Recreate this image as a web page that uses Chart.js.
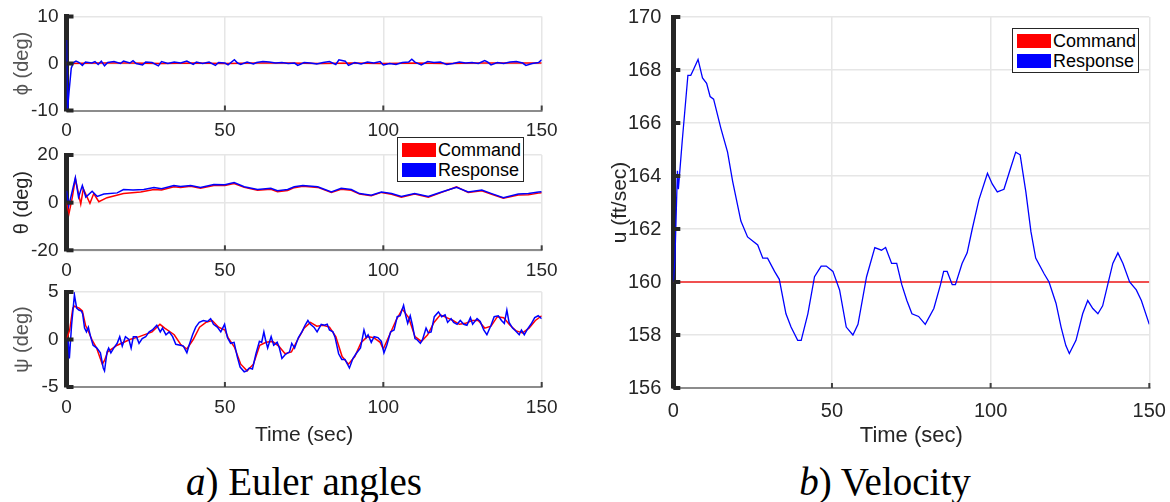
<!DOCTYPE html>
<html>
<head>
<meta charset="utf-8">
<script src="https://cdn.jsdelivr.net/npm/chart.js@4.4.1/dist/chart.umd.min.js"></script>
<style>
  body { margin: 0; background: #fff; width: 1170px; height: 502px; position: relative; overflow: hidden; font-family: "Liberation Sans", Arial, sans-serif; }
  canvas { position: absolute; }
  .legend { position: absolute; width: 125px; height: 43px; border: 1px solid #262626; background: #fff; font-size: 18px; color: #000; }
  .legend .row { position: absolute; left: 0; height: 21px; line-height: 21px; padding-left: 40px; }
  .legend .sw { position: absolute; left: 4px; top: 3px; width: 34px; height: 14px; }
  .caption { position: absolute; top: 461px; font-family: "Liberation Serif", "Times New Roman", serif; font-size: 39px; line-height: 42px; color: #000; text-align: center; width: 400px; }
</style>
</head>
<body>
<canvas id="phiChart" width="560" height="145" style="left:0;top:0"></canvas>
<canvas id="thetaChart" width="560" height="145" style="left:0;top:141px"></canvas>
<canvas id="psiChart" width="560" height="170" style="left:0;top:282px"></canvas>
<canvas id="uChart" width="570" height="455" style="left:600px;top:0"></canvas>

<div class="legend" style="left:397px;top:137px">
  <div class="row" style="top:2px"><span class="sw" style="background:#ff0000"></span>Command</div>
  <div class="row" style="top:22px"><span class="sw" style="background:#0000ff"></span>Response</div>
</div>
<div class="legend" style="left:1012px;top:28px">
  <div class="row" style="top:2px"><span class="sw" style="background:#ff0000"></span>Command</div>
  <div class="row" style="top:22px"><span class="sw" style="background:#0000ff"></span>Response</div>
</div>

<div class="caption" style="left:104px"><i>a</i>) Euler angles</div>
<div class="caption" style="left:685px"><i>b</i>) Velocity</div>

<script>
// phi (deg)
const phiRespTime = [0, 0.3, 0.8, 1.5, 2.2, 3, 4, 5, 6, 8, 9, 10, 11, 12, 13, 15, 17, 18, 20, 21, 22, 24, 25, 27, 29, 30, 32, 34, 36, 38, 40, 41, 43, 45, 47, 48, 50, 51, 53, 54, 55, 57, 59, 60, 62, 64, 66, 68, 70, 72, 73, 75, 77, 79, 81, 83, 85, 86, 88, 89, 91, 93, 95, 97, 99, 100, 102, 104, 106, 108, 109, 110, 112, 114, 116, 118, 120, 122, 124, 126, 128, 130, 132, 133, 134, 136, 138, 140, 142, 144, 145, 147, 149, 150];
const phiResp = [5, -10, -6, -1, 0.2, 0.5, 0.2, -0.4, 0.3, 0.1, 0.4, -0.2, 0.5, -0.5, 0.2, 0.4, 0.0, 0.5, 0.1, 0.6, 0.0, -0.3, 0.3, 0.2, -0.5, 0.4, 0.0, 0.3, 0.1, 0.5, -0.2, 0.3, 0.0, 0.3, -0.4, 0.2, 0.1, -0.3, 0.8, 0.1, -0.2, 0.3, -0.1, 0.2, 0.4, 0.3, 0.1, 0.2, 0.0, 0.1, -0.4, 0.2, 0.1, -0.1, 0.2, 0.4, -0.2, 0.8, 0.5, -0.4, 0.2, -0.1, 0.3, 0.1, 0.4, -0.3, 0.0, -0.2, 0.2, 0.3, 0.9, 0.3, -0.3, 0.4, 0.2, 0.3, -0.2, 0.0, 0.3, 0.1, 0.2, 0.0, 0.6, 0.3, -0.3, 0.2, 0.0, 0.3, 0.4, 0.1, -0.4, 0.0, 0.2, 0.8];
const phiCmdTime = [0, 10, 20, 30, 40, 50, 60, 70, 80, 90, 100, 110, 120, 130, 140, 150];
const phiCmd = [0, 0.1, 0.1, 0.0, 0.1, 0.0, 0.1, 0.1, 0.0, 0.1, 0.0, 0.1, 0.0, 0.1, 0.1, 0.1];

// theta (deg)
const thetaRespTime = [0, 0.7, 1.5, 2.8, 3.8, 5.0, 6.1, 8.1, 9.7, 11.8, 16, 18, 21, 24.4, 27.6, 30, 33.9, 36, 39.2, 42.3, 46.5, 50, 52.9, 56.1, 60.3, 64.5, 66.6, 69.8, 71.9, 74.6, 79.3, 83.6, 86.7, 89.9, 92.5, 96.2, 99.4, 102.6, 105.7, 109.9, 114.2, 118.4, 123.1, 126.8, 131.1, 134.2, 137.9, 142.6, 145.8, 149, 150];
const thetaResp = [5, -1.3, 3, 10.5, 2.3, 7.2, 2.3, 4.8, 2.6, 3.6, 4.1, 5.5, 5.3, 5.5, 6.4, 5.8, 7.2, 6.8, 7.2, 6.4, 7.6, 7.5, 8.4, 6.7, 5.5, 6.0, 5.0, 5.5, 6.7, 7.2, 6.7, 4.5, 6.0, 5.5, 3.8, 3.1, 4.5, 3.8, 2.6, 3.8, 2.6, 4.5, 6.4, 4.5, 5.3, 3.8, 2.1, 3.6, 3.8, 4.5, 4.6];
const thetaCmdTime = [0, 0.8, 1.8, 2.8, 4.5, 5.3, 7.4, 8.6, 10.2, 12.8, 18, 23.4, 27.6, 30, 33.9, 36, 39.2, 42.3, 46.5, 50, 52.9, 56.1, 60.3, 64.5, 66.6, 69.8, 71.9, 74.6, 79.3, 83.6, 86.7, 89.9, 92.5, 96.2, 99.4, 102.6, 105.7, 109.9, 114.2, 118.4, 123.1, 126.8, 131.1, 134.2, 137.9, 142.6, 145.8, 149, 150];
const thetaCmd = [0, -4.5, 2, 10, -0.6, 5.8, -0.3, 3.8, 0.4, 2.1, 3.8, 4.5, 5.5, 5.3, 6.7, 6.4, 6.9, 6.0, 7.2, 7.2, 8.0, 6.4, 5.2, 5.6, 4.6, 5.1, 6.3, 6.9, 6.4, 4.3, 5.6, 5.2, 3.6, 2.9, 4.3, 3.5, 2.3, 3.6, 2.3, 4.3, 6.6, 4.3, 5.0, 3.5, 1.9, 3.2, 3.3, 4.0, 4.2];

// psi (deg)
const psiRespTime = [0, 0.5, 0.9, 1.6, 2.5, 3.2, 3.9, 4.7, 5.1, 5.7, 6.3, 6.9, 7.6, 8.4, 9.6, 10.7, 11.6, 12.0, 12.8, 13.3, 14.0, 14.9, 16, 16.8, 17.6, 18.6, 19.7, 20.4, 21.1, 22.1, 22.9, 23.9, 25, 26.1, 27.1, 28.5, 29.6, 30.3, 31.4, 32.4, 33.5, 34.5, 35.9, 36.9, 38.0, 38.7, 39.8, 40.8, 41.9, 43.2, 44.5, 45.5, 46.4, 47.6, 48.7, 49.9, 50.8, 51.8, 52.9, 53.9, 54.8, 56.1, 56.9, 57.7, 58.7, 59.8, 60.9, 61.6, 62.3, 62.8, 63.5, 64.6, 65.4, 66.5, 67.2, 68.0, 69.0, 70.4, 71.1, 72.0, 73.2, 74.3, 75.3, 76.2, 77.0, 78.1, 79.1, 80.4, 81.4, 82.3, 83.0, 84.1, 84.8, 85.9, 86.9, 87.9, 89.3, 90.4, 91.4, 92.8, 93.9, 94.6, 95.2, 96.2, 97.1, 98.3, 99.4, 100.2, 101.1, 102.3, 103.4, 104.4, 105.3, 106.4, 107.1, 107.7, 108.5, 109.2, 110.0, 110.6, 111.7, 112.4, 113.5, 114.2, 115.1, 116.1, 117.4, 118.4, 119.5, 120.3, 121.4, 122.2, 123.3, 124.3, 125.4, 126.4, 127.5, 128.2, 129.6, 130.6, 131.7, 132.7, 134.0, 135.0, 136.3, 137.3, 138.2, 139.0, 139.7, 140.8, 141.8, 142.9, 143.6, 144.5, 145.5, 146.6, 147.8, 148.9, 150];
const psiResp = [0, 0, -2.0, 1.5, 4.7, 3.3, 3.1, 3.0, 2.7, 1.2, 0.8, 1.3, 0.3, -0.6, -0.9, -1.4, -3.0, -3.3, -1.3, -0.9, -1.4, -0.9, -0.4, 0.3, -0.7, 0.3, 0, -0.9, 0.3, 0.3, -0.4, 0.1, 0.3, 0.8, 1.0, 1.5, 0.8, 1.2, 0.5, 0.8, 0.3, -0.5, -0.6, -0.7, -1.4, -0.6, 0.5, 1.3, 1.8, 2.0, 1.9, 2.2, 1.6, 1.3, 0.8, 1.6, 0.2, -0.4, -0.3, -1.8, -2.9, -3.4, -3.3, -3.0, -3.1, -1.5, -0.2, -0.3, 0.8, 0, -0.9, 0.3, -0.6, -0.3, -0.9, -2.0, -1.6, -1.3, -0.4, -0.9, 0.2, 0.8, 1.5, 2.0, 1.6, 1.3, 0.8, 1.6, 1.5, 1.6, 1.0, 0.8, 0.2, -1.5, -2.1, -2.1, -3.0, -2.0, -1.5, -0.9, 1.0, 0.2, 0.5, -0.3, 0.3, 0.2, -0.2, -1.4, -0.6, 0.8, 1.0, 2.4, 2.5, 3.6, 2.5, 1.7, 2.5, 1.5, 0.1, 0, -0.4, 0, 1.2, 0.7, 0.8, 2.4, 2.9, 2.4, 2.6, 1.8, 2.2, 1.8, 1.6, 2.0, 1.6, 1.5, 2.3, 1.6, 2.2, 1.9, 1.0, 0.5, 1.5, 2.4, 2.5, 2.0, 1.7, 3.1, 1.8, 1.2, 0.9, 0.5, 1.0, 0.5, 1.1, 1.6, 2.3, 2.5, 2.2];
const psiCmdTime = [0, 1, 2, 2.5, 4, 5, 6, 7, 8, 9.5, 11.3, 12, 13, 16, 20, 23, 27, 29.5, 31, 34, 36, 38, 40, 42, 44, 46, 48, 50, 51, 53, 55, 57, 59, 61, 63, 65, 67, 69, 71, 73, 75, 77, 79, 81, 83, 85, 87, 89, 91, 93, 95, 97, 99, 100, 102, 104, 106, 108, 110, 112, 114, 116, 118, 120, 122, 124, 126, 128, 130, 132, 134, 136, 138, 140, 142, 144, 146, 148, 150];
const psiCmd = [0, 1, 3.3, 3.5, 3.3, 3.0, 1.5, 0.8, 0, -0.9, -2.6, -2.2, -1.3, -0.6, 0, 0.3, 0.8, 1.6, 1.2, 0.5, -0.5, -1.0, 0, 1.3, 1.8, 2.0, 1.3, 1.0, 0.2, -0.8, -2.6, -3.3, -2.6, -0.6, -0.3, -0.2, -0.7, -1.5, -1.3, 0.0, 1.2, 1.8, 1.4, 1.5, 1.3, 0.3, -1.8, -2.6, -1.8, -0.3, 0.3, 0.2, -0.3, -1.0, 0.5, 2.0, 3.2, 2.3, 0.3, -0.2, 0.5, 1.8, 2.6, 2.3, 2.0, 1.6, 1.7, 2.0, 2.0, 1.2, 1.4, 2.4, 2.3, 1.5, 0.9, 0.7, 1.2, 2.0, 2.5];

// u (ft/sec)
const uTime = [0, 0.5, 1.3, 1.6, 2.8, 4.6, 5.5, 6.3, 7.8, 9.2, 10.5, 11.6, 12.7, 15, 17.1, 18.7, 21.3, 23.4, 26.6, 28.2, 29.7, 31.9, 33.4, 35.5, 37.1, 39.2, 40.3, 42.4, 44.5, 46.6, 48.2, 50.3, 52.4, 54.5, 56.6, 58.2, 60.9, 63.5, 65.6, 66.9, 68.8, 70.4, 72.0, 73.6, 75.2, 77.3, 79.4, 82.1, 84.2, 85.2, 86.3, 87.9, 88.9, 91.0, 92.6, 94.2, 96.3, 99.0, 100.5, 102.1, 104.2, 106.3, 107.9, 109.3, 111.1, 112.7, 114.2, 116.9, 118.4, 120.6, 122.2, 123.7, 124.8, 126.9, 129.0, 130.6, 132.2, 133.8, 135.3, 136.9, 138.5, 140.1, 141.7, 143.8, 145.9, 147.5, 150];
const uResp = [160, 160.8, 164.2, 163.5, 165.3, 167.8, 167.8, 168.0, 168.4, 167.7, 167.5, 167.0, 166.9, 165.8, 164.9, 163.8, 162.3, 161.7, 161.4, 160.9, 160.9, 160.4, 160.1, 158.8, 158.3, 157.8, 157.8, 158.8, 160.2, 160.6, 160.6, 160.4, 159.7, 158.3, 158.0, 158.4, 160.2, 161.3, 161.2, 161.3, 160.7, 160.7, 159.9, 159.3, 158.8, 158.7, 158.4, 159.0, 159.9, 160.4, 160.4, 159.9, 159.9, 160.7, 161.1, 162.0, 163.1, 164.1, 163.7, 163.4, 163.5, 164.3, 164.9, 164.8, 163.4, 161.9, 160.9, 160.3, 160.0, 159.2, 158.3, 157.6, 157.3, 157.8, 158.8, 159.3, 159.0, 158.8, 159.1, 159.9, 160.7, 161.1, 160.7, 160.0, 159.7, 159.3, 158.4];
const uCmdTime = [0, 150];
const uCmd = [160, 160];

const tickFont = 'Liberation Sans, Arial, sans-serif';

function points(t, v) {
  return t.map((x, i) => ({x: x, y: v[i]}));
}

// MATLAB-style tick stubs on the inside of the axes
const tickStubs = {
  id: 'tickStubs',
  afterDraw(chart) {
    const {ctx, chartArea, scales} = chart;
    ctx.save();
    ctx.fillStyle = '#262626';
    scales.y.ticks.forEach(t => {
      const py = scales.y.getPixelForValue(t.value);
      ctx.fillRect(chartArea.left, py - 2, 7, 4);
    });
    ctx.fillStyle = '#404040';
    scales.x.ticks.forEach(t => {
      if (t.value === 0) return;
      const px = scales.x.getPixelForValue(t.value);
      ctx.fillRect(px - 1, chartArea.bottom - 5, 2, 5);
    });
    ctx.restore();
  }
};

function makeChart(id, cfg) {
  return new Chart(document.getElementById(id), {
    type: 'line',
    data: {
      datasets: [{
        label: 'Command',
        data: cfg.cmd,
        borderColor: cfg.cmdColor || '#ff0000',
        borderWidth: cfg.cmdWidth || 1.5,
        pointRadius: 0,
        order: 1
      }, {
        label: 'Response',
        data: cfg.resp,
        borderColor: '#0000ff',
        borderWidth: cfg.respWidth || 1.5,
        pointRadius: 0,
        order: 0
      }]
    },
    options: {
      responsive: false,
      animation: false,
      layout: {padding: cfg.pad},
      plugins: {legend: {display: false}, tooltip: {enabled: false}},
      scales: {
        x: {
          type: 'linear', min: 0, max: 150,
          afterFit: s => { s.height = cfg.xh; s.paddingLeft = 0; s.paddingRight = 0; },
          grid: {color: '#e6e6e6', lineWidth: 1.5, drawTicks: false},
          border: {color: '#8c8c8c', width: 2},
          ticks: {stepSize: 50, padding: cfg.xpad, color: '#262626', font: {family: tickFont, size: cfg.fs}},
          title: {display: !!cfg.xTitle, text: cfg.xTitle, color: '#262626', padding: {top: 0, bottom: cfg.tpad},
                  font: {family: tickFont, size: cfg.fs + 2}}
        },
        y: {
          min: cfg.ymin, max: cfg.ymax,
          afterFit: s => { s.width = cfg.yw; s.paddingTop = 0; s.paddingBottom = 0; },
          grid: {color: '#e6e6e6', lineWidth: 1.5, drawTicks: false},
          border: {color: '#262626', width: 5},
          ticks: {stepSize: cfg.ystep, padding: cfg.ypad, color: '#262626', font: {family: tickFont, size: cfg.fs}},
          title: {display: true, text: cfg.yTitle, color: cfg.yTitleColor || '#262626', padding: {top: cfg.ytpad, bottom: 0},
                  font: {family: tickFont, size: cfg.yfs}}
        }
      }
    },
    plugins: [tickStubs]
  });
}

makeChart('phiChart', {
  cmd: points(phiCmdTime, phiCmd), resp: points(phiRespTime, phiResp),
  ymin: -10, ymax: 10, ystep: 10, yTitle: 'ϕ (deg)', yTitleColor: '#555555',
  pad: {top: 16.5, right: 18.3, left: 0, bottom: 0}, xh: 34.5, yw: 66.5,
  fs: 19, yfs: 20, xpad: 9, ypad: 8, ytpad: 10
});
makeChart('thetaChart', {
  cmd: points(thetaCmdTime, thetaCmd), resp: points(thetaRespTime, thetaResp),
  ymin: -20, ymax: 20, ystep: 20, yTitle: 'θ (deg)',
  pad: {top: 14, right: 18.3, left: 0, bottom: 0}, xh: 35.7, yw: 66.5,
  fs: 19, yfs: 20, xpad: 9, ypad: 8, ytpad: 10
});
makeChart('psiChart', {
  cmd: points(psiCmdTime, psiCmd), resp: points(psiRespTime, psiResp),
  ymin: -5, ymax: 5, ystep: 5, yTitle: 'ψ (deg)', yTitleColor: '#555555', xTitle: 'Time (sec)',
  pad: {top: 10, right: 18.3, left: 0, bottom: 0}, xh: 65, yw: 66.5,
  fs: 19, yfs: 20, xpad: 9, ypad: 8, ytpad: 10, tpad: 4
});
makeChart('uChart', {
  cmd: points(uCmdTime, uCmd), resp: points(uTime, uResp),
  cmdColor: 'rgba(240, 80, 80, 1)', cmdWidth: 2, respWidth: 1.3,
  ymin: 156, ymax: 170, ystep: 2, yTitle: 'u (ft/sec)', xTitle: 'Time (sec)',
  pad: {top: 17, right: 20.7, left: 0, bottom: 0}, xh: 67, yw: 73.3,
  fs: 20, yfs: 21, xpad: 11, ypad: 12, ytpad: 8, tpad: 6
});
</script>
</body>
</html>
